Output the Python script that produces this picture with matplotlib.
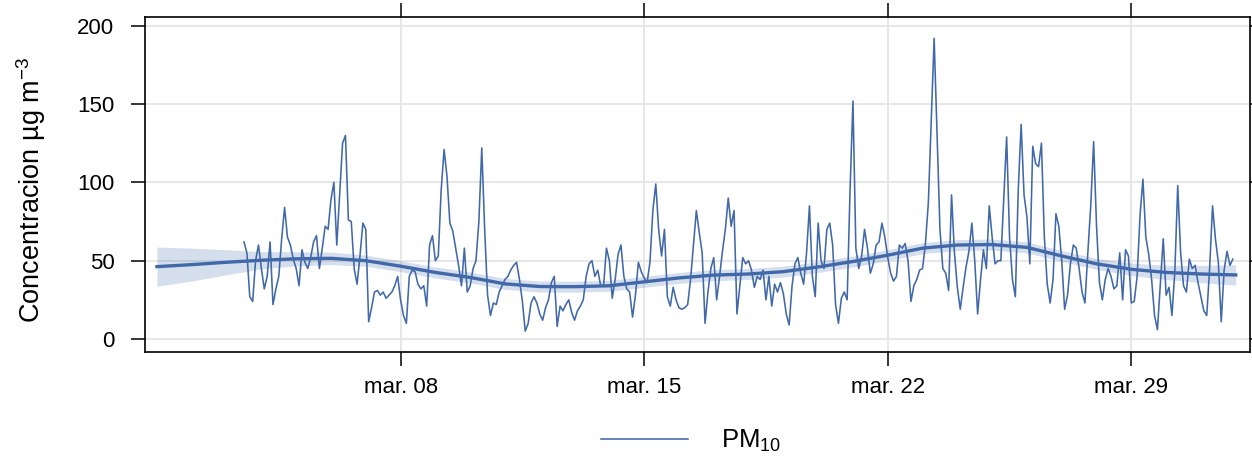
import matplotlib
matplotlib.use("Agg")
import matplotlib.pyplot as plt
import numpy as np
import pandas as pd

plt.rcParams['font.family'] = ['Liberation Sans', 'DejaVu Sans']
plt.rcParams['mathtext.default'] = 'regular'

# hourly PM10, kept every 2 hours (from mar 03 12:00)
start = "2021-03-03 12:00"
pm10 = (
    [62, 55, 27, 24, 50, 60] +                                   # mar 03 pm
    [45, 32, 40, 62, 22, 32, 40, 64, 84, 65, 60, 51] +           # mar 04
    [45, 34, 57, 49, 45, 52, 62, 66, 45, 58, 72, 70] +           # mar 05
    [89, 100, 60, 92, 125, 130, 76, 75, 45, 35, 53, 74] +        # mar 06
    [70, 11, 20, 30, 31, 28, 30, 26, 28, 30, 34, 40] +           # mar 07
    [25, 15, 10, 40, 44, 43, 35, 32, 34, 21, 60, 66] +           # mar 08
    [50, 53, 95, 121, 104, 74, 69, 58, 47, 34, 58, 30] +         # mar 09
    [34, 45, 50, 75, 122, 70, 28, 15, 23, 22, 30, 34] +          # mar 10
    [38, 40, 44, 47, 49, 38, 24, 5, 10, 23, 27, 23] +            # mar 11
    [16, 12, 20, 25, 36, 40, 8, 21, 18, 22, 25, 17] +            # mar 12
    [12, 18, 21, 25, 40, 48, 50, 40, 44, 34, 34, 58] +           # mar 13
    [50, 26, 38, 54, 60, 40, 32, 30, 14, 28, 49, 43] +           # mar 14
    [39, 36, 49, 82, 99, 70, 53, 70, 27, 21, 33, 25] +           # mar 15
    [20, 19, 20, 22, 38, 60, 82, 68, 55, 10, 30, 45] +           # mar 16
    [52, 25, 40, 56, 70, 90, 72, 82, 16, 34, 52, 48] +           # mar 17
    [50, 44, 33, 40, 38, 44, 25, 40, 21, 35, 30, 36] +           # mar 18
    [29, 16, 9, 34, 48, 52, 42, 35, 55, 85, 40, 27] +            # mar 19
    [74, 50, 45, 70, 74, 60, 22, 10, 26, 30, 25, 95] +           # mar 20
    [152, 58, 45, 53, 70, 58, 42, 48, 60, 62, 74, 65] +          # mar 21
    [52, 42, 37, 40, 60, 58, 61, 50, 24, 34, 38, 44] +           # mar 22
    [45, 61, 87, 140, 192, 130, 70, 45, 42, 31, 92, 55] +        # mar 23
    [33, 19, 33, 46, 56, 74, 50, 16, 38, 57, 45, 85] +           # mar 24
    [65, 48, 50, 50, 90, 129, 65, 38, 27, 95, 137, 92] +         # mar 25
    [78, 48, 123, 112, 110, 125, 65, 35, 23, 38, 80, 72] +       # mar 26
    [50, 19, 28, 48, 60, 58, 45, 30, 23, 55, 85, 126] +          # mar 27
    [72, 36, 25, 38, 45, 40, 32, 34, 55, 25, 57, 53] +           # mar 28
    [23, 24, 40, 79, 102, 65, 54, 38, 15, 6, 35, 64] +           # mar 29
    [28, 33, 15, 43, 98, 55, 34, 30, 51, 45, 47, 36] +           # mar 30
    [27, 18, 15, 45, 85, 64, 49, 11, 44, 56, 47, 51]             # mar 31
)

# smooth trend (daily, mar 01 .. apr 01) and half width of its band
smooth_start = "2021-03-01"
trend = [46.2, 47.5, 49.0, 50.3, 51.2, 51.5, 50.0, 46.5, 42.5, 39.3, 35.2,
         33.5, 33.4, 34.0, 36.5, 39.0, 40.8, 41.5, 43.0, 46.0, 49.5, 53.5,
         58.0, 60.0, 60.3, 58.5, 53.0, 48.0, 44.5, 42.5, 41.5, 40.9]
band = [12.5, 10.5, 8.0, 5.5, 4.5, 4.0, 3.5, 3.5, 3.5, 3.5, 3.5, 3.5, 3.5,
        3.5, 3.5, 3.5, 3.5, 3.5, 3.5, 3.5, 3.5, 3.5, 3.5, 3.5, 3.5, 3.5,
        3.5, 3.5, 4.0, 4.5, 5.5, 6.5]

tick_dates = ["2021-03-08", "2021-03-15", "2021-03-22", "2021-03-29"]
tick_labels = ["mar. 08", "mar. 15", "mar. 22", "mar. 29"]
yticks = [0, 50, 100, 150, 200]

blue = "#4169a9"

times = pd.date_range(start, periods=len(pm10), freq="2h")
stimes = pd.date_range(smooth_start, periods=len(trend), freq="D")
trend = np.array(trend)
band = np.array(band)

fig = plt.figure(figsize=(12.52, 4.59), dpi=100)
ax = fig.add_axes([0.1158, 0.2331, 0.8826, 0.7299])

ax.plot(times, pm10, color=blue, lw=1.15, zorder=3, label="PM$_{10}$")
ax.fill_between(stimes, trend - band, trend + band, color=blue, alpha=0.22,
                lw=0, zorder=4)
ax.plot(stimes, trend, color=blue, lw=2.4, zorder=5)

t0 = pd.Timestamp("2021-03-01")
ax.set_xlim(t0 - pd.Timedelta(days=0.345), t0 + pd.Timedelta(days=31.41))
ax.set_ylim(-8.3, 205.6)

ax.set_xticks(pd.to_datetime(tick_dates))
ax.set_xticklabels(tick_labels)
ax.set_yticks(yticks)
ax.grid(True, color="#e5e5e5", lw=1.3, zorder=0)
ax.set_axisbelow(True)

ax.tick_params(direction="out", length=10, width=1.1, labelsize=16,
               top=True, right=True, colors="black")
ax.tick_params(axis="x", pad=8)
ax.tick_params(axis="y", pad=12)
for s in ax.spines.values():
    s.set_linewidth(1.2)

ax.set_ylabel("Concentracion µg m$^{-3}$", fontsize=19.5)
ax.yaxis.set_label_coords(-0.088, 0.485)

leg = fig.legend(loc="center", bbox_to_anchor=(0.552, 0.04), frameon=False,
                 fontsize=18.5, handlelength=3.4, handletextpad=1.3)

fig.savefig("out.png", dpi=100)
